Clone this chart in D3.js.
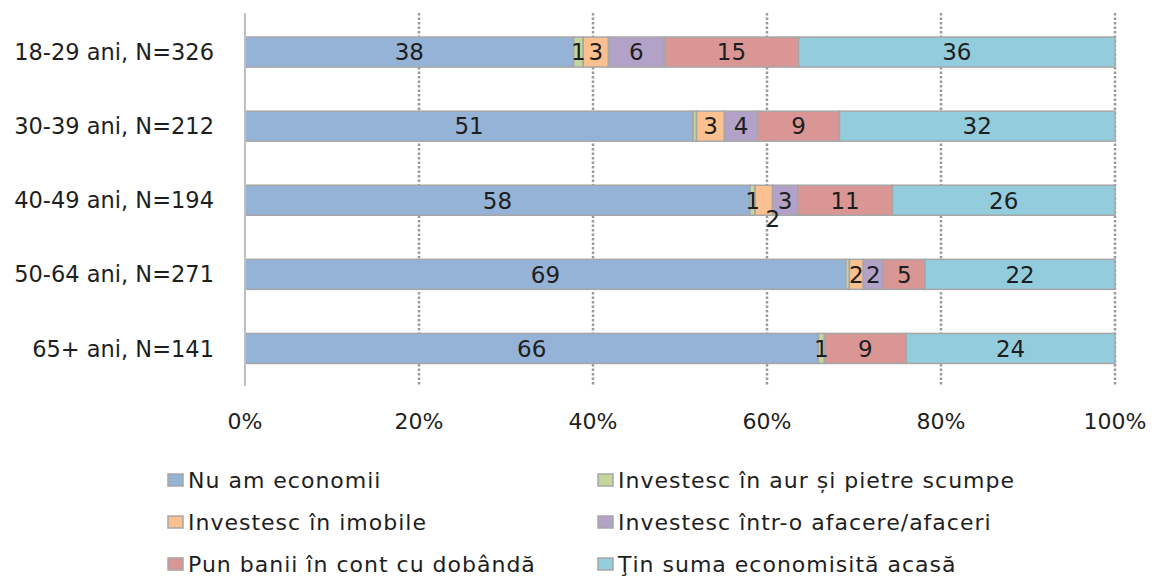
<!DOCTYPE html>
<html>
<head>
<meta charset="utf-8">
<script src="https://cdn.jsdelivr.net/npm/d3@7"></script>
<style>
  html, body { margin: 0; padding: 0; background: #fff; }
  svg { display: block; font-family: "DejaVu Sans", sans-serif; }
</style>
</head>
<body>
<svg id="chart" width="1152" height="588"></svg>
<script>
// ---- data ----
const categories = ["18-29 ani, N=326", "30-39 ani, N=212", "40-49 ani, N=194", "50-64 ani, N=271", "65+ ani, N=141"];
const seriesNames = ["Nu am economii", "Investesc în aur și pietre scumpe", "Investesc în imobile",
                     "Investesc într-o afacere/afaceri", "Pun banii în cont cu dobândă", "Ţin suma economisită acasă"];
const nuAmEconomii = [37.7, 51.4, 58.1, 69.0, 65.9];
const aurPietre    = [1.1, 0.4, 0.6, 0.4, 0.7];
const imobile      = [2.9, 3.2, 2.0, 1.6, 0];
const afacere      = [6.4, 3.8, 2.9, 2.3, 0];
const contDobanda  = [15.4, 9.4, 10.9, 4.8, 9.4];
const acasa        = [36.3, 31.6, 25.6, 21.8, 24.0];
const tickValues = [0, 0.2, 0.4, 0.6, 0.8, 1.0];
const tickLabels = ["0%", "20%", "40%", "60%", "80%", "100%"];

const seriesValues = [nuAmEconomii, aurPietre, imobile, afacere, contDobanda, acasa];
const colors = ["#95B3D7", "#C3D69B", "#FAC090", "#B3A2C7", "#D99694", "#93CDDD"];

// table for d3.stack
const rows = categories.map((c, i) => {
  const r = { cat: c };
  seriesNames.forEach((s, j) => r[s] = seriesValues[j][i]);
  return r;
});
const stacked = d3.stack().keys(seriesNames).offset(d3.stackOffsetExpand)(rows);

// ---- layout ----
const svg = d3.select("#chart");
const x = d3.scaleLinear().domain([0, 1]).range([245, 1115]);
const y = d3.scaleBand().domain(categories).range([15, 385.5]).paddingInner(0.595).paddingOuter(0.2975);
const textColor = "#1e1e1e";

// gridlines
svg.append("g").selectAll("line")
  .data(tickValues.filter(v => v > 0))
  .join("line")
  .attr("x1", d => x(d)).attr("x2", d => x(d))
  .attr("y1", 13).attr("y2", 386)
  .attr("stroke", "#9a9a9a").attr("stroke-width", 2.5)
  .attr("stroke-dasharray", "2.5,2");

// bars
const layer = svg.append("g").selectAll("g")
  .data(stacked).join("g")
  .attr("fill", (d, i) => colors[i]);
layer.selectAll("rect")
  .data(d => d.map(p => ({ p, cat: p.data.cat })))
  .join("rect")
  .attr("x", d => x(d.p[0]))
  .attr("y", d => y(d.cat))
  .attr("width", d => Math.max(0, x(d.p[1]) - x(d.p[0])))
  .attr("height", y.bandwidth())
  .attr("stroke", "#a6a6a6").attr("stroke-width", 1.5);

// y axis line
svg.append("line")
  .attr("x1", 245).attr("x2", 245).attr("y1", 13).attr("y2", 386)
  .attr("stroke", "#bfbfbf").attr("stroke-width", 2);

// value labels
const nudges = { "40-49 ani, N=194|Investesc în imobile": [9, 18] };
stacked.forEach((s, si) => {
  s.forEach((p, ci) => {
    const v = seriesValues[si][ci];
    if (v < 0.5) return;
    const key = categories[ci] + "|" + seriesNames[si];
    const n = nudges[key] || [0, 0];
    svg.append("text")
      .attr("x", (x(p[0]) + x(p[1])) / 2 + n[0])
      .attr("y", y(categories[ci]) + y.bandwidth() / 2 + n[1])
      .attr("dy", "0.36em")
      .attr("text-anchor", "middle")
      .attr("font-size", 23)
      .attr("fill", textColor)
      .text(Math.round(v));
  });
});

// category labels
svg.append("g").selectAll("text")
  .data(categories).join("text")
  .attr("x", 214)
  .attr("y", d => y(d) + y.bandwidth() / 2)
  .attr("dy", "0.36em")
  .attr("text-anchor", "end")
  .attr("font-size", 22.5)
  .attr("fill", textColor)
  .text(d => d);

// x tick labels
svg.append("g").selectAll("text")
  .data(tickValues).join("text")
  .attr("x", d => x(d))
  .attr("y", 421)
  .attr("dy", "0.36em")
  .attr("text-anchor", "middle")
  .attr("font-size", 22)
  .attr("fill", textColor)
  .text((d, i) => tickLabels[i]);

// legend
const legCols = [168, 598];
const legRows = [480, 522, 564];
const leg = svg.append("g").selectAll("g")
  .data(seriesNames).join("g")
  .attr("transform", (d, i) => `translate(${legCols[i % 2]},${legRows[Math.floor(i / 2)]})`);
leg.append("rect")
  .attr("x", 0).attr("y", -6).attr("width", 15).attr("height", 12)
  .attr("fill", (d, i) => colors[i])
  .attr("stroke", "#a6a6a6").attr("stroke-width", 1.5);
leg.append("text")
  .attr("x", 20).attr("y", 0).attr("dy", "0.36em")
  .attr("font-size", 22)
  .attr("letter-spacing", 1)
  .attr("fill", textColor)
  .text(d => d);
</script>
</body>
</html>
